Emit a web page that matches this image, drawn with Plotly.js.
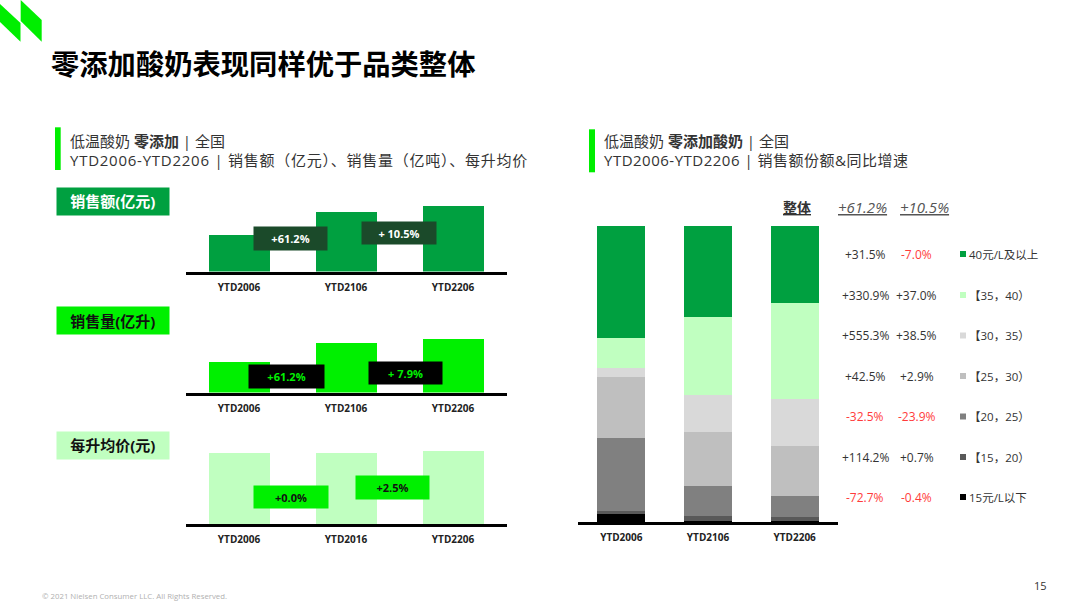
<!DOCTYPE html>
<html>
<head>
<meta charset="utf-8">
<script src="https://cdn.plot.ly/plotly-3.0.1.min.js"></script>
<style>
  html, body { margin: 0; padding: 0; background: #ffffff; }
  #chart { width: 1080px; height: 608px; }
</style>
</head>
<body>
<div id="chart"></div>
<script>
// ---------------- DATA ----------------
const periods = ['YTD2006', 'YTD2106', 'YTD2206'];
const priceTickLabels = ['YTD2006', 'YTD2016', 'YTD2206'];

// index values (YTD2006 = 1)
const salesValueIdx = [1.000, 1.612, 1.781];
const salesVolumeIdx = [1.000, 1.612, 1.739];
const pricePerLitreIdx = [1.000, 1.000, 1.025];

const valueGrowthLabels = ['+61.2%', '+ 10.5%'];
const volumeGrowthLabels = ['+61.2%', '+ 7.9%'];
const priceGrowthLabels = ['+0.0%', '+2.5%'];

// price bands, bottom of stack first
const priceBands = ['15元/L以下', '【15，20）', '【20，25）', '【25，30）', '【30，35）', '【35，40）', '40元/L及以上'];
// value share (%) per period, same order as priceBands
const shareYTD2006 = [2.6, 1.1, 24.7, 20.6, 3.0, 10.1, 37.9];
const shareYTD2106 = [0.45, 1.45, 10.3, 18.1, 12.5, 26.3, 30.9];
const shareYTD2206 = [0.4, 1.3, 7.1, 16.9, 16.0, 32.3, 26.0];
// YoY growth per band, same order as priceBands
const growthYA = ['-72.7%', '+114.2%', '-32.5%', '+42.5%', '+555.3%', '+330.9%', '+31.5%'];
const growthTY = ['-0.4%', '+0.7%', '-23.9%', '+2.9%', '+38.5%', '+37.0%', '-7.0%'];
const totalGrowth = ['+61.2%', '+10.5%'];

// ---------------- STYLE ----------------
const W = 1080, H = 608;
const FONT = "'Open Sans', 'Noto Sans CJK SC', sans-serif";
const CJK = "'Noto Sans CJK SC', 'Open Sans', sans-serif";
const bandColors = ['#000000', '#595959', '#808080', '#bfbfbf', '#d9d9d9', '#c0ffc0', '#00a040'];
const GREEN = '#00a040', BRIGHT = '#00f000', LIGHT = '#c0ffc0', DARKG = '#1b4a2a';
const RED = '#ff3b3b', TXT = '#333333';

const px = x => x / W;
const py = y => 1 - y / H;

function ann(x, y, text, o) {
  return Object.assign({
    xref: 'paper', yref: 'paper', x: px(x), y: py(y), text: text,
    showarrow: false, xanchor: 'left', yanchor: 'middle',
    font: {family: FONT, size: 12, color: TXT}
  }, o || {});
}
function box(cx, cy, w, h, text, bg, color, size) {
  return ann(cx, cy, text, {
    xanchor: 'center', width: w, height: h, bgcolor: bg, borderpad: 0,
    align: 'center', valign: 'middle',
    font: {family: FONT, size: size || 11, color: color, weight: 'bold'}
  });
}
function rect(x0, y0, x1, y1, color) {
  return {type: 'rect', xref: 'paper', yref: 'paper', x0: px(x0), x1: px(x1), y0: py(y1), y1: py(y0),
          fillcolor: color, line: {width: 0}, layer: 'above'};
}
function poly(pts, color) {
  const d = pts.map((p, i) => (i ? 'L' : 'M') + px(p[0]) + ',' + py(p[1])).join(' ') + ' Z';
  return {type: 'path', xref: 'paper', yref: 'paper', path: d, fillcolor: color, line: {width: 0}};
}
const spaced = (t, ls) => '<span style="letter-spacing:' + ls + 'px">' + t + '</span>';

// ---------------- TRACES ----------------
const traces = [];
traces.push({type: 'bar', x: periods, y: salesValueIdx, xaxis: 'x', yaxis: 'y',
  width: 0.57, marker: {color: GREEN, line: {width: 0}}, hoverinfo: 'skip'});
traces.push({type: 'bar', x: periods, y: salesVolumeIdx, xaxis: 'x2', yaxis: 'y2',
  width: 0.57, marker: {color: BRIGHT, line: {width: 0}}, hoverinfo: 'skip'});
traces.push({type: 'bar', x: [0, 1, 2], y: pricePerLitreIdx, xaxis: 'x3', yaxis: 'y3',
  width: 0.57, marker: {color: LIGHT, line: {width: 0}}, hoverinfo: 'skip'});

const sharesByPeriod = [shareYTD2006, shareYTD2106, shareYTD2206];
priceBands.forEach((band, i) => {
  traces.push({type: 'bar', name: band, x: periods, y: sharesByPeriod.map(s => s[i]),
    xaxis: 'x4', yaxis: 'y4', width: 0.554,
    marker: {color: bandColors[i], line: {width: 0}}, hoverinfo: 'skip'});
});

// ---------------- AXES ----------------
const tickFont = {family: FONT, size: 10, color: '#222', weight: 'bold'};
function xax(d0, d1, anchor, extra) {
  return Object.assign({domain: [px(d0), px(d1)], anchor: anchor, showline: true, linewidth: 3,
    linecolor: '#000', ticks: '', showgrid: false, zeroline: false, tickfont: tickFont,
    range: [-0.5, 2.5], fixedrange: true, ticklabelstandoff: 4}, extra || {});
}
function yax(bottom, top, range, anchor) {
  return {domain: [py(bottom), py(top)], range: range, anchor: anchor, visible: false,
    showgrid: false, zeroline: false, fixedrange: true};
}

const layout = {
  width: W, height: H, margin: {l: 0, r: 0, t: 0, b: 0},
  paper_bgcolor: '#fff', plot_bgcolor: 'rgba(0,0,0,0)',
  showlegend: false, barmode: 'stack',
  xaxis: xax(185.5, 506.5, 'y', {type: 'category'}),
  yaxis: yax(271.5, 197.5, [0, 2], 'x'),
  xaxis2: xax(185.5, 506.5, 'y2', {type: 'category'}),
  yaxis2: yax(392.5, 330.5, [0, 2], 'x2'),
  xaxis3: xax(185.5, 506.5, 'y3', {type: 'linear', tickvals: [0, 1, 2], ticktext: priceTickLabels}),
  yaxis3: yax(524, 438.8, [0, 1.2], 'x3'),
  xaxis4: xax(578, 838, 'y4', {type: 'category'}),
  yaxis4: yax(522, 226, [0, 100], 'x4'),
  annotations: [], shapes: []
};

const A = layout.annotations, S = layout.shapes;

// logo
S.push(poly([[0, 4], [0, 22], [20.5, 41.7], [20.5, 23]], '#00ee00'));
S.push(poly([[20.7, 0], [20.7, 21], [41.7, 41.7], [41.7, 20]], '#00ee00'));

// title
A.push(ann(49, 62, '零添加酸奶表现同样优于品类整体', {font: {family: CJK, size: 28.3, color: '#000', weight: 'bold'}}));

// left subtitle
S.push(rect(55, 127.3, 60.7, 170, '#00ee00'));
A.push(ann(68, 140.5, '低温酸奶 <b>零添加</b> | 全国', {font: {family: FONT, size: 15, color: TXT}}));
A.push(ann(68, 159.5, spaced('YTD2006-YTD2206 | 销售额（亿元）、销售量（亿吨）、每升均价', 0.75), {font: {family: FONT, size: 15, color: TXT}}));

// right subtitle
S.push(rect(589, 129.3, 595, 172.3, '#00ee00'));
A.push(ann(602, 141.5, '低温酸奶 <b>零添加酸奶</b> | 全国', {font: {family: FONT, size: 15, color: TXT}}));
A.push(ann(602, 160.5, spaced('YTD2006-YTD2206 | 销售额份额&同比增速', 0.5), {font: {family: FONT, size: 15, color: TXT}}));

// section header boxes
A.push(box(112.5, 201, 111.6, 26.6, '销售额(亿元)', GREEN, '#fff', 15));
A.push(box(112.5, 320.8, 111.6, 27, '销售量(亿升)', BRIGHT, '#111', 15));
A.push(box(112.5, 445, 111.6, 26.6, '每升均价(元)', LIGHT, '#111', 15));

// growth boxes
A.push(box(290.7, 238.7, 73, 23, valueGrowthLabels[0], DARKG, '#fff', 11));
A.push(box(399, 233.2, 74, 22, valueGrowthLabels[1], DARKG, '#fff', 11));
A.push(box(286.7, 376, 75, 23, volumeGrowthLabels[0], '#000', BRIGHT, 11));
A.push(box(405.3, 372.5, 73, 22, volumeGrowthLabels[1], '#000', BRIGHT, 11));
A.push(box(291, 496.8, 74, 22, priceGrowthLabels[0], BRIGHT, '#111', 11));
A.push(box(392.7, 487.5, 73, 23, priceGrowthLabels[1], BRIGHT, '#111', 11));

// right table header
A.push(ann(797, 207, '整体', {xanchor: 'center', font: {family: CJK, size: 14, color: '#333', weight: 'bold', lineposition: 'under'}}));
A.push(ann(862.5, 207, totalGrowth[0], {xanchor: 'center', font: {family: FONT, size: 15, color: '#555', style: 'italic', lineposition: 'under'}}));
A.push(ann(924.5, 207, totalGrowth[1], {xanchor: 'center', font: {family: FONT, size: 15, color: '#555', style: 'italic', lineposition: 'under'}}));

// table rows (top row = last band)
const rowY = [254, 295, 335.5, 376, 416.5, 457, 497];
for (let r = 0; r < priceBands.length; r++) {
  const i = priceBands.length - 1 - r;
  const y = rowY[r];
  const c1 = growthYA[i].startsWith('-') ? RED : TXT;
  const c2 = growthTY[i].startsWith('-') ? RED : TXT;
  A.push(ann(865, y, growthYA[i], {xanchor: 'center', font: {family: FONT, size: 12, color: c1}}));
  A.push(ann(916.7, y, growthTY[i], {xanchor: 'center', font: {family: FONT, size: 12, color: c2}}));
  S.push(rect(960, y - 3, 966, y + 3, bandColors[i]));
  A.push(ann(967, y, priceBands[i], {font: {family: FONT, size: 11.5, color: TXT}}));
}

// footer
A.push(ann(40, 596, '© 2021 Nielsen Consumer LLC. All Rights Reserved.', {font: {family: FONT, size: 7.8, color: '#b0b0b0'}}));
A.push(ann(1049, 585, '15', {xanchor: 'right', font: {family: FONT, size: 11, color: '#333'}}));

Plotly.newPlot('chart', traces, layout, {staticPlot: true, displayModeBar: false});
</script>
</body>
</html>
